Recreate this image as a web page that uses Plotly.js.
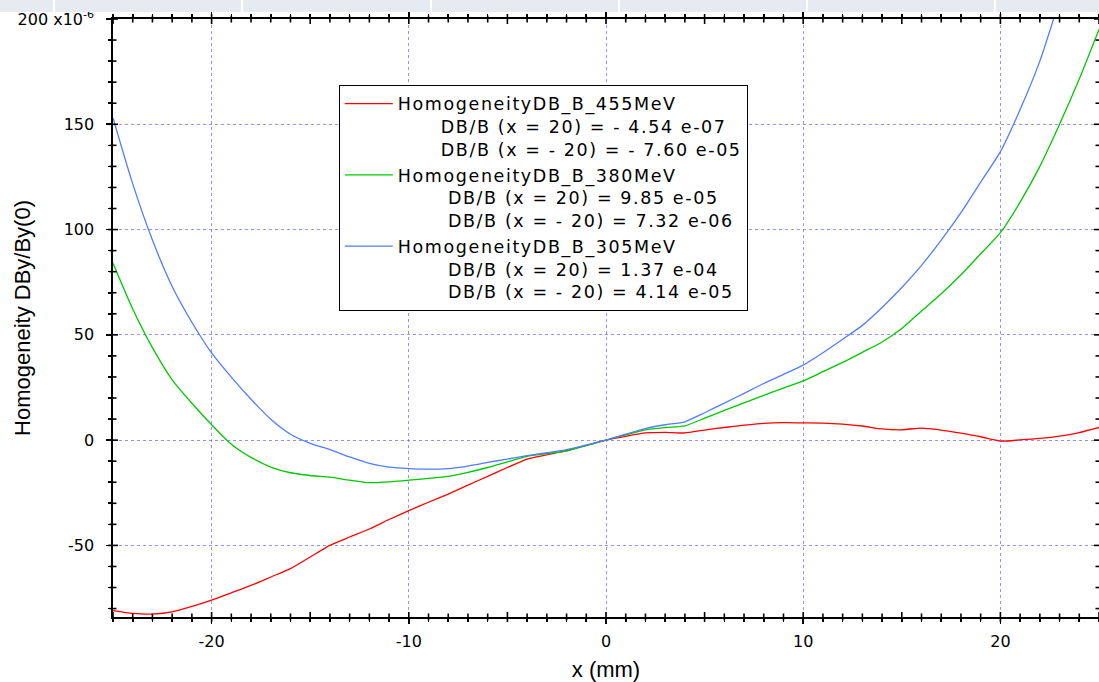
<!DOCTYPE html>
<html>
<head>
<meta charset="utf-8">
<script src="https://cdn.plot.ly/plotly-3.0.1.min.js"></script>
<style>
  html, body { margin: 0; padding: 0; background: #ffffff; }
  #chart { width: 1099px; height: 682px; position: absolute; left: 0; top: 0; }
  #band { position: absolute; left: 0; top: 0; width: 1099px; height: 12px; background: #e6eaf1; z-index: 10; }
  #band div { position: absolute; top: 0; width: 2px; height: 12px; background: #ffffff; }
  text.legendtext { letter-spacing: 1.6px; }
</style>
</head>
<body>
<div id="chart"></div>
<div id="band"></div>
<script>
// ---- data (values in units of 1e-6) ----
var xPos = [-25,-24,-23,-22,-21,-20,-19,-18,-17,-16,-15,-14,-13,-12,-11,-10,-9,-8,-7,-6,-5,-4,-3,-2,-1,0,
            1,2,3,4,5,6,7,8,9,10,11,12,13,14,15,16,17,18,19,20,21,22,23,24,25];

var homog455 = [-81,-82.3,-82.6,-81.6,-79,-76,-72.5,-69,-65,-61,-55.5,-50,-46,-42.2,-37.7,-33.5,-29.5,-25.6,-21.4,-17.2,-13,-9,-7,-5,-2.5,0,
                1.8,3.4,3.7,3.4,4.8,6.0,7.1,8.0,8.3,8.2,8.1,7.6,6.7,5.3,4.9,5.7,4.8,3.3,1.6,-0.45,0.1,0.8,1.9,3.6,6.0];

var homog380 = [84,62.3,43.9,28.6,17.5,7.3,-1.9,-8.2,-12.8,-15.5,-16.8,-17.6,-19,-20.2,-19.8,-19,-18.2,-17.2,-15.3,-13,-10.3,-7.7,-6.4,-5.2,-2.6,0,
                2.5,4.9,6,6.8,10.4,14.1,17.7,21.3,24.7,28.1,32.5,36.9,41.7,46.6,53,61.3,69.5,78.5,88.5,98.5,113,130,150,171.5,195];

var homog305 = [153,121.7,95,73,56,41.4,29.9,19.4,9.9,2.8,-1.5,-4.5,-8,-11,-12.8,-13.5,-13.8,-13.5,-12.3,-10.6,-9,-7.4,-6,-4.5,-2.3,0,
                2.8,5.5,7.3,8.7,13,17.6,22.2,26.9,31.2,35.6,41.5,47.9,54.5,63,72.5,83,95,108,122.5,137,157,180,209,240,273];

var seriesNames = ['HomogeneityDB_B_455MeV','HomogeneityDB_B_380MeV','HomogeneityDB_B_305MeV'];
var plusLabels  = ['DB/B (x = 20) = - 4.54 e-07','DB/B (x = 20) = 9.85 e-05','DB/B (x = 20) = 1.37 e-04'];
var minusLabels = ['DB/B (x = - 20) = - 7.60 e-05','DB/B (x = - 20) = 7.32 e-06','DB/B (x = - 20) = 4.14 e-05'];
var indents     = [6, 7, 7];

var xTickVals = [-20,-10,0,10,20];
var xTickText = ['-20','-10','0','10','20'];
var yTickVals = [-50,0,50,100,150,200];
var yTickText = ['-50','0','50','100','150','200 x10<sup>-6</sup>'];
var xTitle = 'x (mm)';
var yTitle = 'Homogeneity DBy/By(0)';

var colors = ['rgb(255,0,0)','rgb(0,200,0)','rgb(82,124,255)'];
var allSeries = [homog455, homog380, homog305];

var xRange = [-25, 25];
var yRange = [-84, 200];

// ---- top band separators ----
var sepX = [53,241,430,618,806,994];
var band = document.getElementById('band');
sepX.forEach(function(p){ var d=document.createElement('div'); d.style.left=p+'px'; band.appendChild(d); });

function pad(n){ return new Array(n+1).join('\u00a0'); }

var traces = allSeries.map(function(ys, i){
  return {
    x: xPos, y: ys, type: 'scatter', mode: 'lines',
    line: { color: colors[i], width: 1.3, shape: 'spline', smoothing: 0.6 },
    name: seriesNames[i] + '<br>' + pad(indents[i]) + plusLabels[i] + '<br>' + pad(indents[i]) + minusLabels[i]
  };
});

// ---- crossing axis ticks (drawn as pixel-sized shapes on the axis scales) ----
var shapes = [];
var tickLine = { color: '#000', width: 1.6 };
for (var xv = xRange[0]; xv <= xRange[1]; xv += 1) {
  var hx = (xv % 5 === 0) ? 5 : 3.5;
  [0, 1].forEach(function(side){
    shapes.push({ type: 'line', layer: 'above', xref: 'x', yref: 'paper', ysizemode: 'pixel', yanchor: side,
                  x0: xv, x1: xv, y0: -hx, y1: hx, line: tickLine });
  });
}
for (var yv = -80; yv <= yRange[1]; yv += 10) {
  var hy = (yv % 50 === 0) ? 5 : 3.5;
  [0, 1].forEach(function(side){
    shapes.push({ type: 'line', layer: 'above', xref: 'paper', yref: 'y', xsizemode: 'pixel', xanchor: side,
                  y0: yv, y1: yv, x0: -hy, x1: hy, line: tickLine });
  });
}

var gridCol = 'rgba(110,110,255,0.75)';
var tickFont = { family: 'DejaVu Sans, sans-serif', size: 16, color: '#000' };
var titleFont = { family: 'Liberation Sans, Arial, sans-serif', size: 22, color: '#000' };

var layout = {
  width: 1099, height: 682,
  margin: { l: 113, r: 0, t: 19, b: 65 },
  paper_bgcolor: '#ffffff', plot_bgcolor: '#ffffff',
  font: { family: 'DejaVu Sans, sans-serif', size: 16, color: '#000' },
  showlegend: true,
  legend: {
    x: 0.229, y: 0.890, xanchor: 'left', yanchor: 'top',
    bgcolor: '#ffffff', bordercolor: '#000', borderwidth: 1,
    font: { family: 'DejaVu Sans, sans-serif', size: 17.5, color: '#000' },
    valign: 'top', itemwidth: 48, tracegroupgap: 0
  },
  xaxis: {
    range: xRange, tickmode: 'array', tickvals: xTickVals, ticktext: xTickText,
    ticks: 'outside', ticklen: 5, tickwidth: 1.6, tickcolor: '#000',
    showline: true, linecolor: '#000', linewidth: 1.6, mirror: 'allticks',
    showgrid: true, gridcolor: gridCol, griddash: 'dot', gridwidth: 1,
    zeroline: false, ticklabelstandoff: 4,
    minor: { dtick: 1, tick0: 0, ticks: 'outside', ticklen: 3.5, tickwidth: 1.6, tickcolor: '#000', showgrid: false },
    title: { text: xTitle, font: titleFont, standoff: 15 },
    tickfont: tickFont
  },
  yaxis: {
    range: yRange, tickmode: 'array', tickvals: yTickVals, ticktext: yTickText,
    ticks: 'outside', ticklen: 5, tickwidth: 1.6, tickcolor: '#000',
    showline: true, linecolor: '#000', linewidth: 1.6, mirror: 'allticks',
    showgrid: true, gridcolor: gridCol, griddash: 'dot', gridwidth: 1,
    zeroline: false, ticklabelstandoff: 9,
    minor: { dtick: 10, tick0: 0, ticks: 'outside', ticklen: 3.5, tickwidth: 1.6, tickcolor: '#000', showgrid: false },
    tickfont: { family: 'DejaVu Sans, sans-serif', size: 16, color: '#000' }
  },
  shapes: shapes,
  annotations: [{
    text: yTitle, xref: 'paper', yref: 'paper', x: -0.0923, y: 0.5,
    xanchor: 'center', yanchor: 'middle', textangle: -90, showarrow: false,
    font: titleFont
  }]
};

Plotly.newPlot('chart', traces, layout, { displayModeBar: false, staticPlot: true });
</script>
</body>
</html>
